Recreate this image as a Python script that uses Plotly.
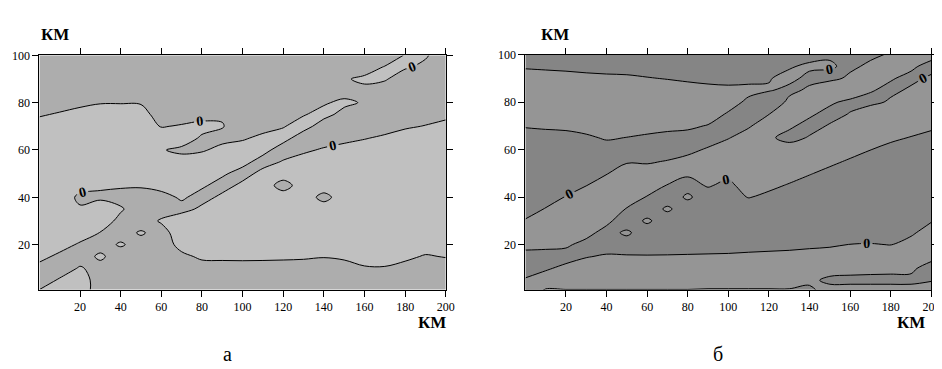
import plotly.graph_objects as go

# grid of the field (km)
x_km = [0, 10, 20, 30, 40, 50, 60, 70, 80, 90, 100, 110, 120, 130, 140, 150, 160, 170, 180, 190, 200]
y_km = [0, 5, 10, 15, 20, 25, 30, 35, 40, 45, 50, 55, 60, 65, 70, 75, 80, 85, 90, 95, 100]

x_ticks = [20, 40, 60, 80, 100, 120, 140, 160, 180, 200]
y_ticks = [20, 40, 60, 80, 100]

# panel "а": field values, one list per x column (y = 0..100)
panel_a_columns = [
    [1, -4, -2.6, 2.4, 5, 5, 5, 5, 5, 5, 5, 5, 5, 5, 4, -1, -5, -5, -5, -5, -5],
    [5, 0.9, -4.1, -1.8, 3.2, 5, 5, 5, 5, 5, 5, 5, 5, 5, 5, 1, -4, -5, -5, -5, -5],
    [5, 5, 0.8, -3.9, -1.1, 3.9, 5, 1, -1.8, 3.2, 5, 5, 5, 5, 5, 3, -2, -5, -5, -5, -5],
    [-5, -5, -3, 1.5, -3.5, -0.3, 4.7, 4.7, -1.5, 1.1, 5, 5, 5, 5, 5, 4.5, -0.5, -5, -5, -5, -5],
    [-5, -5, -5, -4.5, 1, -3.5, -2.5, 1, -3, 1, 5, 5, 5, 5, 5, 5, -0.5, -5, -5, -5, -5],
    [-5, -5, -5, -5, -3.5, 1, -4.5, -5, -4, 1, 5, 5, 5, 5, 5, 4.2, -0.8, -5, -5, -5, -5],
    [-5, -5, -5, -5, -5, -3.5, 1, -4, -2.5, 2.5, 5, 5, 0.5, 4.5, -0.5, -5, -5, -5, -5, -5, -5],
    [-5, -5, -5, -2, 3, 5, 5, -2.5, 1, 5, 5, 2.9, -1.5, 3.6, 0.8, -4.2, -5, -5, -5, -5, -5],
    [-5, -5, -3.5, 1.5, 5, 5, 5, 1.5, -2.5, 1, 5, 5, -1, -1, 2.2, -2.8, -5, -5, -5, -5, -5],
    [-5, -5, -3.3, 1.7, 5, 5, 5, 5, 1.5, -2.5, 1, 5, 2.5, -2.5, 0.5, -1, -5, -5, -5, -5, -5],
    [-5, -5, -3.2, 1.8, 5, 5, 5, 5, 5, 1.5, -2.5, 2, 4, -1, -5, -5, -5, -5, -5, -5, -5],
    [-5, -5, -3.3, 1.7, 5, 5, 5, 5, 5, 5, 2, -2.5, 2, 2, -3, -5, -5, -5, -5, -5, -5],
    [-5, -5, -3.5, 1.5, 5, 5, 5, 5, 5, -4, 5, 0.5, -3, 2, -0.3, -5, -5, -5, -5, -5, -5],
    [-5, -5, -3.8, 1.2, 5, 5, 5, 5, 5, 5, 5, 3.5, -1.5, -3, 2, -0.3, -5, -5, -5, -5, -5],
    [-5, -5, -4.5, 0.5, 5, 5, 5, 5, -3, 5, 5, 5, 1, -4, -2.5, 1.5, -0.5, -5, -5, -5, -5],
    [-5, -5, -3.5, 1.5, 5, 5, 5, 5, 5, 5, 5, 5, 2.8, -2.2, -5, -1.5, 1, -2, -0.8, -5, -5],
    [-5, -5, -1, 4, 5, 5, 5, 5, 5, 5, 5, 5, 4.5, -0.5, -5, -5, -0.5, -2, 1.5, -3.5, -5],
    [-5, -5, -0.8, 4.2, 5, 5, 5, 5, 5, 5, 5, 5, 5, 1.5, -3.5, -5, -5, -5, 1, 0.5, -5],
    [-5, -5, -3, 2, 5, 5, 5, 5, 5, 5, 5, 5, 5, 5, -1.5, -5, -5, -5, -5, 1, 0.5],
    [-5, -5, -5, -0.8, 4.2, 5, 5, 5, 5, 5, 5, 5, 5, 5, 0.5, -4.5, -5, -5, -5, -2, 1],
    [-5, -5, -4.5, 0.5, 5, 5, 5, 5, 5, 5, 5, 5, 5, 5, 2.7, -2.3, -5, -5, -5, -5, -5],
]

# panel "б"
panel_b_columns = [
    [5, 1, -4, -2.7, 2.3, 5, 0.8, -4.2, -5, -5, -5, -5, -5, -4.2, 0.8, 5, 5, 5, 4, -1, -5],
    [-1.5, 4, -1, -3, 2, 5, 5, 0.5, -4.5, -5, -5, -5, -5, -3.5, 1.5, 5, 5, 5, 3.5, -1.5, -5],
    [-1.5, 5, 2, -3, 1.2, 5, 5, 5, 0.5, -4.5, -5, -5, -5, -3, 2, 5, 5, 5, 3, -2, -5],
    [-1.5, 5, 4.5, -0.5, -2.5, 2.5, 5, 5, 5, -0.3, -5, -5, -5, -1.5, 3.5, 5, 5, 5, 2.3, -2.7, -5],
    [-1.5, 5, 5, 1, -4, -3, 2, 5, 5, 4.5, -0.5, -5, -4, 1, 5, 5, 5, 5, 1.8, -3.2, -5],
    [-1.5, 5, 5, 0.7, -4.3, 1.5, -5, -0.5, 4.5, 5, 4.2, -0.8, -5, -0.2, 4.8, 5, 5, 5, 1.5, -3.5, -5],
    [-1.5, 5, 5, 0.6, -4.4, -5, 1.5, -5, -0.5, 4.5, 4, -1, -5, -1.5, 3.5, 5, 5, 5, 0.5, -4.5, -5],
    [-1.5, 5, 5, 0.7, -4.3, -5, -5, 1.5, -5, -0.3, 5, 0.5, -4.5, -2.6, 2.4, 5, 5, 5, -0.5, -5, -5],
    [-1.5, 5, 5, 0.9, -4.1, -5, -5, -5, 1.5, -3.5, 1.5, 2.7, -2.3, -3.3, 1.7, 5, 5, 3.5, -1.5, -5, -5],
    [-2, 5, 5, 1.1, -3.9, -5, -5, -5, -5, 1, 0.7, 5, 1, -4, -0.5, 4.5, 5, 2.6, -2.4, -5, -5],
    [-2, 5, 5, 1.3, -3.7, -5, -5, -5, -5, -2.5, 2.5, 5, 4.5, -0.5, -5, -1, 4, 2.1, -2.9, -5, -5],
    [-2, 5, 5, 1.8, -3.2, -5, -5, -4.5, 0.5, 5, 5, 5, 5, 4, -1, -5, -2, 2.5, -2.5, -5, -5],
    [-2, 5, 5, 2.2, -2.8, -5, -5, -5, -2.5, 2.5, 5, 5, 2, 1, 5, -0.2, -5, 0.5, -0.3, -5, -5],
    [-2, 5, 5, 2.6, -2.4, -5, -5, -5, -5, -0.8, 4.2, 5, 3, -2, 1, 5, 1.5, -1.5, 1.5, -0.5, -5],
    [-2, 1.5, 5, 3.3, -1.7, -5, -5, -5, -5, -4.3, 0.7, 5, 5, 0.5, -2, 1, 5, 1, -1.5, 1, -2],
    [3, -1.5, 3, 3.9, -1.1, -5, -5, -5, -5, -5, -2.8, 2.2, 5, 5, 0.5, -2, 1, 5, -1.5, 0.5, -0.5],
    [3, -1.5, 2, 5, 0.2, -4.8, -5, -5, -5, -5, -5, -1.3, 3.7, 5, 5, 0.3, -1.5, 4.5, 1, -1, -0.5],
    [3, -1.5, 1.6, 5, 0.5, -4.5, -5, -5, -5, -5, -5, -4.8, 0.2, 5, 5, 5, -2, 0.5, 5, 1, -1],
    [3, -1.5, 1.4, 5, -0.2, -5, -5, -5, -5, -5, -5, -5, -3, 2, 5, 5, 1, -1.5, 0.5, 4.5, 0.5],
    [3, -1.5, 1.2, 5, 3.5, -1.5, -5, -5, -5, -5, -5, -5, -5, -0.5, 4.5, 5, 5, 1, -1.5, 1, 5],
    [4, -0.4, -2.9, 2.1, 5, 4.4, -0.6, -5, -5, -5, -5, -5, -5, -3, 2, 5, 5, 5, 1, -2, 2],
]

axis_unit = "КМ"
panel_names = ["а", "б"]

W, H = 942, 369
SERIF = "Liberation Serif, Times New Roman, serif"


def to_rows(columns):
    return [[col[j] for col in columns] for j in range(len(y_km))]


def px(x):
    return x / W


def py(y):
    return 1 - y / H


fig = go.Figure()

panels = [
    (panel_a_columns, "#c0c0c0", "#adadad", "x", "y"),
    (panel_b_columns, "#959595", "#858585", "x2", "y2"),
]
for cols, light, dark, xa, ya in panels:
    fig.add_trace(go.Contour(
        x=x_km, y=y_km, z=to_rows(cols), xaxis=xa, yaxis=ya,
        contours=dict(start=0, end=0.5, size=1, coloring="fill", showlabels=True,
                      labelfont=dict(family=SERIF, size=14, color="black", weight="bold")),
        colorscale=[[0, dark], [0.6, dark], [0.6, light], [1, light]],
        showscale=False, hoverinfo="skip",
        line=dict(color="black", width=1, smoothing=1),
    ))

tickfont = dict(family=SERIF, size=12, color="black")
common = dict(showline=True, linecolor="black", linewidth=1, mirror="ticks", ticks="outside",
              ticklen=6, tickcolor="black", showgrid=False, zeroline=False, tickfont=tickfont)

fig.update_layout(
    width=W, height=H, margin=dict(l=0, r=0, t=0, b=0),
    paper_bgcolor="white", plot_bgcolor="white", showlegend=False,
    xaxis=dict(domain=[31.7 / W, 442 / W], range=[0, 200], tickvals=x_ticks, anchor="y", **common),
    yaxis=dict(domain=[py(279.9), py(41.1)], range=[1, 100], tickvals=y_ticks, anchor="x", **common),
    xaxis2=dict(domain=[522.3 / W, 932.3 / W], range=[0, 200], tickvals=x_ticks, anchor="y2", **common),
    yaxis2=dict(domain=[py(280.1), py(40.3)], range=[1, 100], tickvals=y_ticks, anchor="x2", **common),
)

unit_font = dict(family=SERIF, size=17, color="black", weight="bold")
cap_font = dict(family=SERIF, size=20, color="black")
ann = [
    (47, 20, axis_unit, unit_font),
    (552, 20, axis_unit, unit_font),
    (428, 313, axis_unit, unit_font),
    (912, 313, axis_unit, unit_font),
    (222, 346, panel_names[0], cap_font),
    (717, 346, panel_names[1], cap_font),
]
for x, y, t, f in ann:
    fig.add_annotation(x=px(x), y=py(y), xref="paper", yref="paper", text=t, showarrow=False,
                       font=f, xanchor="center", yanchor="middle")

fig.write_html("out.html")
